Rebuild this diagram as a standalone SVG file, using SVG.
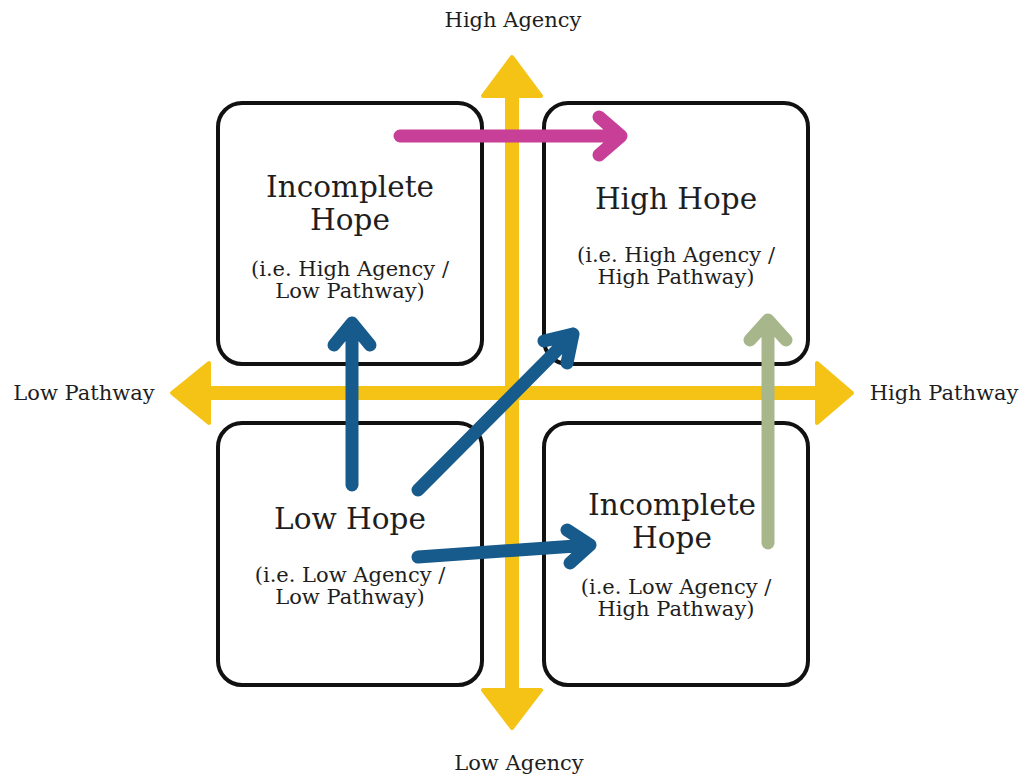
<svg xmlns="http://www.w3.org/2000/svg" width="1024" height="779" viewBox="0 0 1024 779">
<style>
.box{fill:#fff;stroke:#111;stroke-width:4}
.t{font-family:"DejaVu Serif","Liberation Serif",serif;fill:#1e1e1e;text-anchor:middle}
.title{font-size:29.5px}
.sub{font-size:21px}
.ax{font-size:21px}
.arr{fill:none;stroke-linecap:round;stroke-linejoin:round;stroke-width:13}
.blue{stroke:#175a8c}
.mag{stroke:#c83f97}
.green{stroke:#a8b68c}
.y{fill:#f5c316}
</style>
<rect width="1024" height="779" fill="#fff"/>
<g id="axes">
<rect class="y" x="505" y="90" width="14" height="605"/>
<rect class="y" x="205" y="386" width="615" height="14"/>
<path class="y" d="M512 57 L541 96 L483 96 Z" stroke="#f5c316" stroke-width="4" stroke-linejoin="round"/>
<path class="y" d="M512 728 L541 690 L483 690 Z" stroke="#f5c316" stroke-width="4" stroke-linejoin="round"/>
<path class="y" d="M172 393 L209 363 L209 423 Z" stroke="#f5c316" stroke-width="4" stroke-linejoin="round"/>
<path class="y" d="M852 393 L817 363 L817 423 Z" stroke="#f5c316" stroke-width="4" stroke-linejoin="round"/>
</g>
<g id="tl"><rect class="box" x="218" y="103" width="264" height="261" rx="24"/>
<text class="t title" x="350" y="197">Incomplete</text>
<text class="t title" x="350" y="230">Hope</text>
<text class="t sub" x="350" y="276">(i.e. High Agency /</text>
<text class="t sub" x="350" y="298">Low Pathway)</text></g>
<g id="tr"><rect class="box" x="544" y="103" width="264" height="261" rx="24"/>
<text class="t title" x="676" y="209">High Hope</text>
<text class="t sub" x="676" y="262">(i.e. High Agency /</text>
<text class="t sub" x="676" y="284">High Pathway)</text></g>
<g id="bl"><rect class="box" x="218" y="423" width="264" height="262" rx="24"/>
<text class="t title" x="350" y="529">Low Hope</text>
<text class="t sub" x="350" y="582">(i.e. Low Agency /</text>
<text class="t sub" x="350" y="604">Low Pathway)</text></g>
<g id="br"><rect class="box" x="544" y="423" width="264" height="262" rx="24"/>
<text class="t title" x="672" y="515">Incomplete</text>
<text class="t title" x="672" y="548">Hope</text>
<text class="t sub" x="676" y="594">(i.e. Low Agency /</text>
<text class="t sub" x="676" y="616">High Pathway)</text></g>
<g id="labels">
<text class="t ax" x="513" y="27">High Agency</text>
<text class="t ax" x="519" y="770">Low Agency</text>
<text class="t ax" x="84" y="400">Low Pathway</text>
<text class="t ax" x="944" y="400">High Pathway</text>
</g>
<g id="connectors">
<path class="arr mag" d="M400 136 L621 136 M599 117 L621 136 L599 155"/>
<path class="arr blue" d="M352 485 L352 323 M334 345 L352 323 L370 345"/>
<path class="arr blue" d="M418 490 L573 334 M544 341 L573 334 L567 363"/>
<path class="arr blue" d="M418 557 L590 545 M567 530 L590 545 L570 563"/>
<path class="arr green" d="M768 543 L768 320 M750 340 L768 320 L786 340"/>
</g>
</svg>
